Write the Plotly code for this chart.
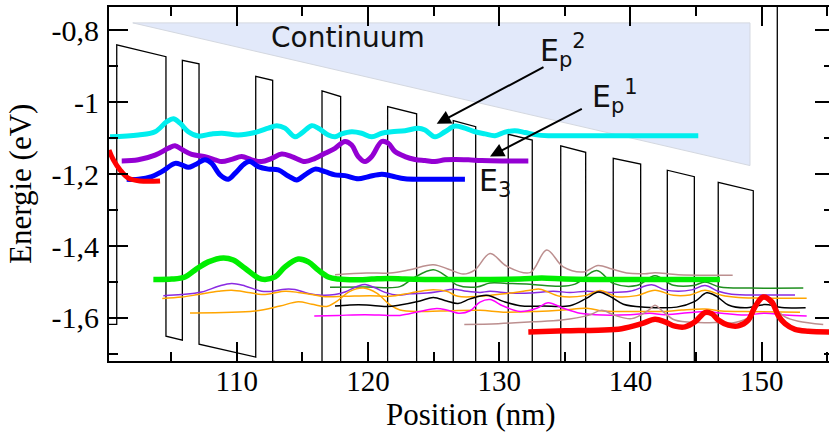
import plotly.graph_objects as go

# ---------------- data (nm, eV) ----------------
pot_x = [100.27, 100.86, 100.86, 104.61, 104.61, 105.86, 105.86, 107.13, 107.13, 111.45, 111.45, 112.74,
         112.74, 116.50, 116.50, 117.92, 117.92, 121.50, 121.50, 123.71, 123.71, 126.50, 126.50, 128.21,
         128.21, 130.69, 130.69, 132.52, 132.52, 134.69, 134.69, 136.59, 136.59, 138.69, 138.69, 140.78,
         140.78, 142.81, 142.81, 144.87, 144.87, 146.69, 146.69, 149.36, 149.36, 151.19, 151.19, 156.0]
pot_y = [-1.618, -1.618, -0.840, -0.873, -1.651, -1.662, -0.883, -0.893, -1.673, -1.709, -0.928, -0.939,
         -1.720, -1.752, -0.968, -0.984, -1.764, -1.795, -1.012, -1.032, -1.813, -1.837, -1.051, -1.068,
         -1.852, -1.873, -1.089, -1.105, -1.888, -1.907, -1.121, -1.139, -1.923, -1.941, -1.156, -1.172,
         -1.958, -1.976, -1.189, -1.207, -1.993, -2.009, -1.223, -1.246, -2.031, -2.047, -0.650, -0.650]

continuum_x = [102.08, 149.11, 149.11, 102.08]
continuum_y = [-0.779, -0.779, -1.176, -0.779]

cyan_x = [100.35, 102.50, 103.78, 104.67, 105.17, 105.68, 106.31, 107.07, 108.10, 108.86, 110.12, 111.39,
          112.41, 113.05, 113.68, 114.44, 114.95, 115.71, 116.22, 116.98, 117.49, 118.00, 118.76, 119.52,
          120.29, 121.05, 121.81, 122.82, 123.84, 124.35, 125.11, 125.87, 126.63, 127.39, 128.16, 128.92,
          129.68, 130.44, 131.20, 131.97, 132.73, 133.74, 136.29, 138.82, 141.36, 145.17]
cyan_y = [-1.096, -1.091, -1.082, -1.054, -1.046, -1.058, -1.082, -1.094, -1.088, -1.086, -1.091, -1.084,
          -1.072, -1.065, -1.072, -1.096, -1.086, -1.065, -1.072, -1.091, -1.096, -1.088, -1.082, -1.086,
          -1.096, -1.086, -1.082, -1.079, -1.072, -1.077, -1.096, -1.082, -1.066, -1.072, -1.082, -1.088,
          -1.093, -1.083, -1.079, -1.084, -1.090, -1.093, -1.093, -1.093, -1.093, -1.093]

purple_x = [101.24, 102.50, 103.78, 104.79, 105.30, 105.81, 106.57, 107.58, 108.35, 108.86, 109.62, 110.38,
            111.14, 111.90, 112.67, 113.43, 114.19, 115.20, 115.97, 116.73, 117.49, 118.25, 118.76, 119.26,
            119.78, 120.29, 121.05, 121.55, 122.06, 122.82, 123.58, 124.35, 125.11, 125.87, 126.63, 127.65,
            128.67, 130.19, 132.22]
purple_y = [-1.163, -1.160, -1.147, -1.128, -1.121, -1.131, -1.145, -1.151, -1.160, -1.165, -1.159, -1.151,
            -1.160, -1.165, -1.156, -1.144, -1.151, -1.165, -1.156, -1.142, -1.128, -1.109, -1.119, -1.151,
            -1.165, -1.151, -1.109, -1.114, -1.137, -1.151, -1.159, -1.162, -1.165, -1.160, -1.159, -1.160,
            -1.162, -1.163, -1.163]

blue_x = [101.62, 102.50, 103.52, 104.29, 105.30, 105.81, 106.31, 106.82, 107.58, 108.10, 108.73, 109.36,
          109.87, 110.63, 111.01, 111.65, 112.41, 113.17, 113.93, 114.57, 115.20, 115.97, 116.73, 117.49,
          118.25, 119.26, 120.03, 121.05, 121.81, 122.82, 124.35, 125.87, 127.39]
blue_y = [-1.214, -1.214, -1.207, -1.193, -1.170, -1.174, -1.181, -1.174, -1.160, -1.170, -1.202, -1.214,
          -1.198, -1.170, -1.165, -1.179, -1.186, -1.188, -1.205, -1.216, -1.202, -1.186, -1.193, -1.202,
          -1.204, -1.213, -1.207, -1.200, -1.205, -1.213, -1.214, -1.214, -1.214]

red_left_x = [100.27, 100.60, 101.11, 101.74, 102.63, 104.16]
red_left_y = [-1.133, -1.160, -1.188, -1.211, -1.219, -1.219]

green_x = [103.65, 105.05, 106.06, 106.82, 107.84, 108.98, 109.74, 110.63, 111.65, 112.16, 112.92, 113.68,
           114.69, 115.46, 116.22, 116.98, 117.74, 119.01, 120.29, 121.55, 122.82, 124.35, 127.78, 131.59,
           133.24, 135.01, 137.68, 141.49, 146.82]
green_y = [-1.493, -1.492, -1.486, -1.467, -1.444, -1.433, -1.439, -1.462, -1.489, -1.493, -1.486, -1.458,
           -1.436, -1.444, -1.467, -1.486, -1.492, -1.494, -1.492, -1.490, -1.492, -1.493, -1.493, -1.492,
           -1.489, -1.492, -1.493, -1.493, -1.493]

red_right_x = [132.22, 135.01, 137.55, 139.33, 140.86, 141.87, 142.63, 143.39, 144.16, 144.92, 145.68, 146.19,
               146.69, 147.46, 148.22, 148.98, 149.49, 150.12, 150.76, 151.26, 151.78, 152.54, 153.55, 155.20]
red_right_y = [-1.639, -1.636, -1.634, -1.630, -1.616, -1.604, -1.611, -1.623, -1.625, -1.611, -1.585, -1.588,
               -1.606, -1.620, -1.622, -1.606, -1.569, -1.542, -1.555, -1.593, -1.616, -1.632, -1.637, -1.639]

thin_purple_x = [104.41, 105.81, 107.33, 108.60, 109.62, 110.63, 111.90, 112.67, 113.68, 114.44, 115.46, 116.48,
                 117.49, 118.25, 119.26, 119.78, 120.54, 121.30, 122.31, 123.20, 124.48, 125.49, 126.50, 127.52,
                 128.54, 129.30, 130.82, 132.35, 134.12, 135.39, 136.67, 138.44, 139.97, 141.62, 142.63, 143.65,
                 144.67, 145.68, 146.69, 147.71, 150.00, 152.54]
thin_purple_y = [-1.538, -1.535, -1.528, -1.512, -1.504, -1.511, -1.526, -1.526, -1.520, -1.521, -1.532, -1.537,
                 -1.535, -1.528, -1.511, -1.507, -1.516, -1.529, -1.537, -1.533, -1.531, -1.526, -1.520, -1.526,
                 -1.529, -1.526, -1.531, -1.531, -1.526, -1.529, -1.526, -1.529, -1.526, -1.508, -1.522, -1.526,
                 -1.522, -1.510, -1.526, -1.534, -1.536, -1.536]

orange_a_x = [104.33, 105.81, 107.07, 108.60, 109.62, 110.88, 111.90, 112.67, 113.68, 114.69, 115.71, 116.73,
              118.25, 120.16, 121.68, 123.20, 124.73, 126.00, 126.86, 128.54, 130.57, 132.35, 133.11, 134.63,
              136.54, 137.68, 138.95, 140.48, 141.87, 143.27, 144.54, 145.68, 146.95, 148.22, 150.76, 153.43]
orange_a_y = [-1.546, -1.542, -1.535, -1.526, -1.523, -1.529, -1.535, -1.532, -1.526, -1.529, -1.535, -1.541,
              -1.540, -1.538, -1.540, -1.531, -1.522, -1.526, -1.540, -1.540, -1.532, -1.523, -1.520, -1.540,
              -1.538, -1.524, -1.541, -1.538, -1.523, -1.537, -1.536, -1.523, -1.537, -1.543, -1.545, -1.545]

orange_b_x = [106.44, 111.39, 113.30, 114.69, 115.74, 116.86, 117.62, 118.63, 119.65, 120.67, 121.68, 122.44,
              123.97, 125.49, 128.54, 130.31, 132.86, 134.88, 136.67, 137.93, 139.20, 141.49, 142.63, 143.91,
              145.68, 146.95, 148.73, 152.92]
orange_b_y = [-1.586, -1.581, -1.567, -1.555, -1.562, -1.568, -1.554, -1.526, -1.517, -1.531, -1.564, -1.578,
              -1.582, -1.581, -1.579, -1.584, -1.582, -1.578, -1.573, -1.581, -1.582, -1.582, -1.582, -1.578,
              -1.575, -1.581, -1.582, -1.584]

brown_a_x = [117.49, 119.90, 121.68, 123.20, 124.98, 126.25, 127.26, 128.16, 129.30, 130.57, 132.35, 133.62,
             134.88, 136.41, 137.53, 138.59, 139.71, 141.11, 141.87, 143.65, 147.79]
brown_a_y = [-1.480, -1.475, -1.475, -1.466, -1.452, -1.466, -1.478, -1.466, -1.421, -1.456, -1.474, -1.411,
             -1.458, -1.472, -1.454, -1.464, -1.475, -1.477, -1.474, -1.480, -1.481]

dkgreen_x = [117.11, 119.90, 122.44, 123.46, 124.98, 126.00, 126.76, 128.29, 129.30, 130.57, 132.35, 134.63,
             135.78, 137.43, 138.69, 140.48, 141.87, 143.27, 144.79, 145.68, 146.82, 149.11, 153.17]
dkgreen_y = [-1.515, -1.514, -1.513, -1.489, -1.466, -1.485, -1.508, -1.514, -1.503, -1.504, -1.506, -1.512,
             -1.506, -1.468, -1.504, -1.510, -1.483, -1.509, -1.510, -1.500, -1.514, -1.517, -1.517]

black_x = [117.49, 118.63, 119.90, 121.43, 122.44, 123.97, 124.98, 126.00, 126.86, 127.78, 129.05, 130.31,
           131.59, 133.36, 135.39, 136.67, 137.55, 138.44, 139.46, 141.11, 143.52, 144.92, 145.81, 146.57,
           147.46, 148.73, 150.25, 151.52, 153.35]
black_y = [-1.567, -1.564, -1.564, -1.568, -1.564, -1.553, -1.543, -1.553, -1.560, -1.547, -1.537, -1.554,
           -1.566, -1.567, -1.566, -1.545, -1.528, -1.540, -1.562, -1.570, -1.570, -1.554, -1.530, -1.540,
           -1.564, -1.572, -1.563, -1.571, -1.572]

magenta_x = [115.91, 117.74, 119.78, 121.55, 122.44, 123.97, 125.24, 126.00, 127.01, 127.78, 128.54, 129.30,
             130.31, 131.59, 132.86, 133.72, 134.88, 136.16, 137.93, 139.97, 141.49, 142.63, 145.68, 146.95,
             148.73, 150.25, 151.78, 153.43]
magenta_y = [-1.595, -1.593, -1.591, -1.593, -1.593, -1.582, -1.574, -1.578, -1.587, -1.580, -1.556, -1.549,
             -1.567, -1.582, -1.573, -1.558, -1.573, -1.587, -1.592, -1.591, -1.587, -1.591, -1.582, -1.587,
             -1.592, -1.587, -1.592, -1.595]

brown_b_x = [127.34, 129.93, 132.48, 134.76, 136.79, 137.81, 138.82, 140.10, 141.36, 141.87, 142.38, 143.39,
             145.17, 146.44, 147.97, 149.24, 150.12, 151.01, 151.78, 152.79, 154.69]
brown_b_y = [-1.618, -1.616, -1.611, -1.606, -1.593, -1.579, -1.593, -1.602, -1.579, -1.565, -1.579, -1.606,
             -1.613, -1.613, -1.613, -1.593, -1.546, -1.574, -1.597, -1.609, -1.618]

x_major = [110, 120, 130, 140, 150]
x_minor = [105, 115, 125, 135, 145, 155]
y_major = [-1.6, -1.4, -1.2, -1.0, -0.8]
y_major_text = ["-1,6", "-1,4", "-1,2", "-1", "-0,8"]
y_minor = [-1.7, -1.5, -1.3, -1.1, -0.9]

X_RANGE = [100.27, 155.13]
Y_RANGE = [-1.7199, -0.7348]

# ---------------- figure ----------------
fig = go.Figure()

fig.add_trace(go.Scatter(x=continuum_x, y=continuum_y, mode="lines", fill="toself",
                         fillcolor="#e2e9fa", line=dict(color="#d4d8e0", width=1),
                         hoverinfo="skip", showlegend=False))
fig.add_trace(go.Scatter(x=pot_x, y=pot_y, mode="lines", line=dict(color="black", width=1.3),
                         hoverinfo="skip", showlegend=False))

thin = [
    (brown_a_x, brown_a_y, "#bc8f8f"),
    (dkgreen_x, dkgreen_y, "#1f8f1f"),
    (thin_purple_x, thin_purple_y, "#8a2be2"),
    (orange_a_x, orange_a_y, "#ffa500"),
    (orange_b_x, orange_b_y, "#ffa500"),
    (black_x, black_y, "#000000"),
    (magenta_x, magenta_y, "#ff00ff"),
    (brown_b_x, brown_b_y, "#bc8f8f"),
]
for xs, ys, c in thin:
    fig.add_trace(go.Scatter(x=xs, y=ys, mode="lines", line=dict(color=c, width=1.5, shape="spline", smoothing=1.0),
                             hoverinfo="skip", showlegend=False))

thick = [
    (green_x, green_y, "#00ee00", 5.5),
    (cyan_x, cyan_y, "#00eeee", 5),
    (purple_x, purple_y, "#9400d3", 5),
    (blue_x, blue_y, "#0000ff", 5),
    (red_left_x, red_left_y, "#ff0000", 5),
]
for xs, ys, c, w in thick:
    fig.add_trace(go.Scatter(x=xs, y=ys, mode="lines", line=dict(color=c, width=w, shape="spline", smoothing=1.0),
                             hoverinfo="skip", showlegend=False))

fig.add_trace(go.Scatter(x=red_right_x, y=red_right_y, mode="lines", yaxis="y2",
                         line=dict(color="#ff0000", width=5.5, shape="spline", smoothing=1.0),
                         hoverinfo="skip", showlegend=False))

serif = "Liberation Serif, Times New Roman, serif"
sans = "DejaVu Sans, Verdana, sans-serif"

annotations = [
    dict(x=118.48, y=-0.819, xref="x", yref="y", text="Continuum", showarrow=False,
         font=dict(family=sans, size=28, color="#111111"), xanchor="center", yanchor="middle"),
    dict(x=132.96, y=-0.857, xref="x", yref="y", text="E<sub>p</sub><sup>2</sup>", showarrow=False,
         font=dict(family=sans, size=30, color="#111111"), xanchor="left", yanchor="middle"),
    dict(x=136.92, y=-0.985, xref="x", yref="y", text="E<sub>p</sub><sup>1</sup>", showarrow=False,
         font=dict(family=sans, size=30, color="#111111"), xanchor="left", yanchor="middle"),
    dict(x=128.29, y=-1.2245, xref="x", yref="y", text="E<sub>3</sub>", showarrow=False,
         font=dict(family=sans, size=30, color="#111111"), xanchor="left", yanchor="middle"),
    dict(x=125.24, y=-1.060, ax=133.49, ay=-0.900, xref="x", yref="y", axref="x", ayref="y",
         text="", showarrow=True, arrowhead=2, arrowsize=1.4, arrowwidth=2, arrowcolor="black", standoff=0),
    dict(x=129.30, y=-1.151, ax=136.41, ay=-1.016, xref="x", yref="y", axref="x", ayref="y",
         text="", showarrow=True, arrowhead=2, arrowsize=1.4, arrowwidth=2, arrowcolor="black", standoff=0),
    # axis titles
    dict(x=0.5, y=0, xref="paper", yref="paper", text="Position (nm)", showarrow=False,
         font=dict(family=serif, size=31, color="black"), xanchor="center", yanchor="middle",
         xshift=2, yshift=-53),
    dict(x=0, y=0.5, xref="paper", yref="paper", text="Energie (eV)", showarrow=False, textangle=-90,
         font=dict(family=serif, size=31, color="black"), xanchor="center", yanchor="middle",
         xshift=-89),
]

fig.update_layout(
    width=829, height=435,
    margin=dict(l=109, r=0, t=7, b=74, autoexpand=False),
    paper_bgcolor="white", plot_bgcolor="white",
    showlegend=False,
    annotations=annotations,
    xaxis=dict(range=X_RANGE, showgrid=False, zeroline=False, showline=True, linecolor="black", linewidth=2,
               mirror="ticks", ticks="inside", ticklen=19, tickwidth=1.8, tickcolor="black", automargin=False,
               tickvals=x_major, ticktext=[str(v) for v in x_major], ticklabelstandoff=-7,
               tickfont=dict(family=serif, size=29, color="black"),
               minor=dict(tickvals=x_minor, ticks="inside", ticklen=9, tickwidth=1.8, tickcolor="black")),
    yaxis=dict(range=Y_RANGE, showgrid=False, zeroline=False, showline=True, linecolor="black", linewidth=2,
               mirror=False, ticks="inside", ticklen=19, tickwidth=1.8, tickcolor="black", automargin=False,
               tickvals=y_major, ticktext=y_major_text, ticklabelstandoff=2,
               tickfont=dict(family=serif, size=30, color="black"),
               minor=dict(tickvals=y_minor, ticks="inside", ticklen=9, tickwidth=1.8, tickcolor="black")),
    yaxis2=dict(range=Y_RANGE, overlaying="y", side="right", showgrid=False, zeroline=False, showline=False,
                ticks="inside", ticklen=14, tickwidth=1.8, tickcolor="black", tickvals=y_major,
                showticklabels=False, automargin=False,
                minor=dict(tickvals=y_minor, ticks="inside", ticklen=5, tickwidth=1.8, tickcolor="black")),
)

fig.write_html("out.html", config={"displayModeBar": False},
               post_script="document.body.style.margin='0';")
